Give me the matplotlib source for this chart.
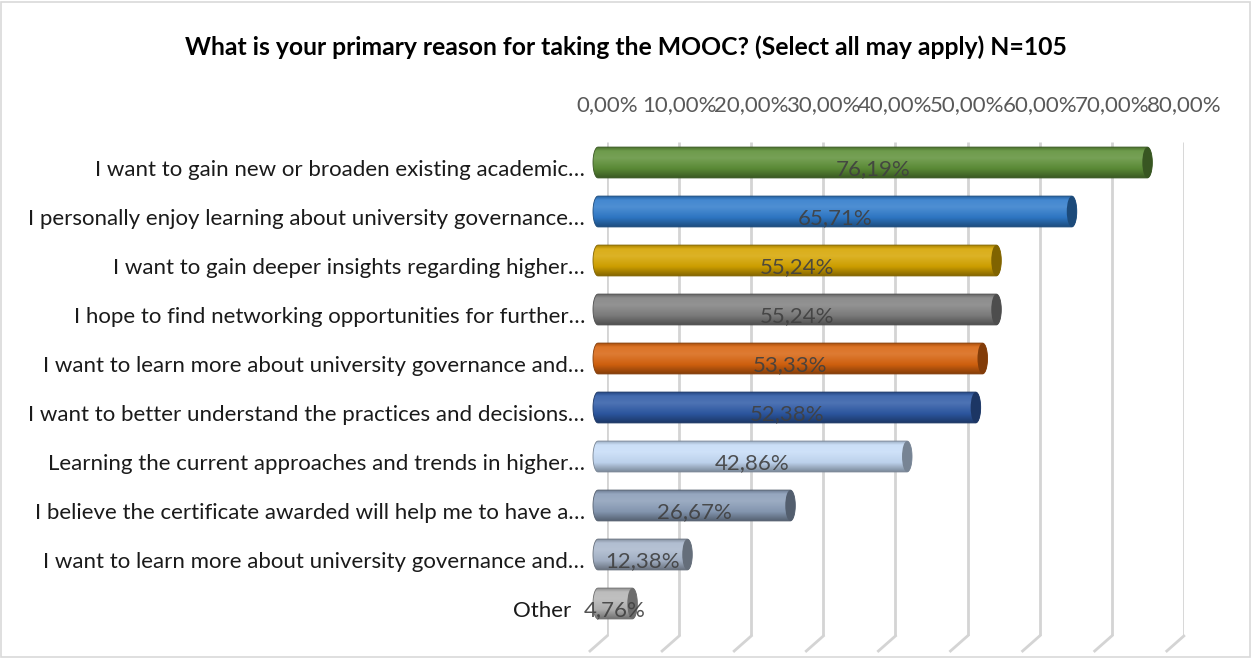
import matplotlib.pyplot as plt
import numpy as np
from matplotlib.path import Path
from matplotlib.patches import PathPatch, Ellipse, Rectangle
from matplotlib.colors import to_rgb

plt.rcParams['font.family'] = ['Lato', 'DejaVu Sans']

# ---- data ----
title = "What is your primary reason for taking the MOOC? (Select all may apply) N=105"
categories = [
    "I want to gain new or broaden existing academic…",
    "I personally enjoy learning about university governance…",
    "I want to gain deeper insights regarding higher…",
    "I hope to find networking opportunities for further…",
    "I want to learn more about university governance and…",
    "I want to better understand the practices and decisions…",
    "Learning the current approaches and trends in higher…",
    "I believe the certificate awarded will help me to have a…",
    "I want to learn more about university governance and…",
    "Other",
]
values = [76.19, 65.71, 55.24, 55.24, 53.33, 52.38, 42.86, 26.67, 12.38, 4.76]
bar_colors = ["#5E9038", "#2F7BCB", "#D6A500", "#808080", "#D8640F",
              "#2E5AA6", "#C6DCF7", "#8A9DB8", "#A9B7CC", "#B5B5B5"]
ticks = [0, 10, 20, 30, 40, 50, 60, 70, 80]

W, H = 1252, 658
fig = plt.figure(figsize=(W / 100, H / 100), dpi=100)
fig.patches.append(Rectangle((1 / W, 1 / H), 1 - 3 / W, 1 - 3 / H, transform=fig.transFigure,
                             fill=False, edgecolor="#d9d9d9", linewidth=1.2))

fig.text(0.5, 1 - 47 / H, title, ha="center", va="center", fontsize=17.8,
         fontweight="bold", color="#000000")

px = 7.21  # pixels per percent

# back wall (gridlines + top tick labels)
bx0 = 607
bx1 = bx0 + 80 * px
back = fig.add_axes([bx0 / W, (H - 636) / H, (bx1 - bx0) / W, (636 - 142) / H])
back.set_xlim(0, 80)
back.set_ylim(0, 1)
back.axis("off")
for t in ticks:
    back.plot([t, t], [0, 1], color="#d4d4d4", linewidth=2, solid_capstyle="butt")
    # small perspective foot under each gridline
    x_px = bx0 + t * px
    fig.add_artist(plt.Line2D([x_px / W, (x_px - 17) / W], [(H - 636) / H, (H - 651) / H],
                              transform=fig.transFigure, color="#d4d4d4", linewidth=2))
    back.text(t, 1 + 37 / 494, f"{t:.2f}%".replace(".", ","), ha="center", va="center",
              fontsize=16, color="#595959")

# front axes holding the cylinders (zero of the value axis at fx0 pixels)
fx0 = 598
xmin, xmax = -3, 84
ax = fig.add_axes([(fx0 + xmin * px) / W, (H - 628) / H, (xmax - xmin) * px / W, 490 / H])
ax.patch.set_alpha(0)
ax.axis("off")
ax.set_xlim(xmin, xmax)
ax.set_ylim(9.5, -0.5)

bh = 0.63
cap_w = 10 / px


def shade(c, n=64):
    c = np.array(to_rgb(c))
    white = np.ones(3)
    pos = np.array([0.0, 0.12, 0.35, 0.7, 1.0])
    cols = np.array([c * 0.8, c * 0.9 + white * 0.1, c * 0.85 + white * 0.15, c * 0.95, c * 0.62])
    s = np.linspace(0, 1, n)
    g = np.stack([np.interp(s, pos, cols[:, k]) for k in range(3)], axis=1)
    return np.clip(g, 0, 1)[:, None, :]


fig.canvas.draw()
renderer = fig.canvas.get_renderer()

for i, (v, col) in enumerate(zip(values, bar_colors)):
    y0, y1 = i - bh / 2, i + bh / 2
    th = np.linspace(np.pi / 2, 3 * np.pi / 2, 30)
    left = np.column_stack([cap_w / 2 * np.cos(th), i - bh / 2 * np.sin(th)])
    th2 = np.linspace(-np.pi / 2, np.pi / 2, 30)
    right = np.column_stack([v + cap_w / 2 * np.cos(th2), i - bh / 2 * np.sin(th2)])
    verts = np.vstack([left, right, left[:1]])
    clip = PathPatch(Path(verts), transform=ax.transData, facecolor="none", edgecolor="none")
    ax.add_patch(clip)
    img = ax.imshow(shade(col), extent=[-cap_w / 2, v + cap_w / 2, y1, y0], aspect="auto",
                    zorder=2, interpolation="bilinear")
    img.set_clip_path(clip)
    dark = np.array(to_rgb(col)) * 0.6
    ax.add_patch(PathPatch(Path(verts), facecolor="none", edgecolor=dark, linewidth=0.6, zorder=3))
    ax.add_patch(Ellipse((v, i), cap_w, bh, facecolor=dark, edgecolor="none", zorder=4))
    lab = ax.text(v / 2, i + 0.13, f"{v:.2f}%".replace(".", ","), ha="center", va="center",
                  fontsize=16, color="#404040", alpha=0.9, zorder=5)
    # category label right edge, pushed left if the value label sticks out
    x_right = fx0 - 13
    lab_x0 = lab.get_window_extent(renderer).x0
    if lab_x0 < x_right + 10:
        x_right = lab_x0 - 13
    ax.text((x_right - fx0) / px, i + 0.16, categories[i], ha="right", va="center",
            fontsize=16, color="#1a1a1a", zorder=5)

ax.set_xlim(xmin, xmax)
ax.set_ylim(9.5, -0.5)

fig.savefig("out.png", dpi=100)
